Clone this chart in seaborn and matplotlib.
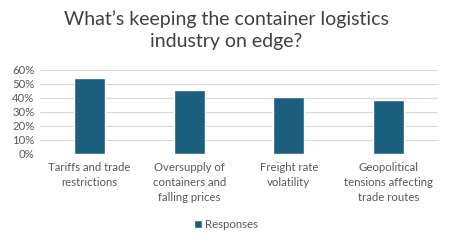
import matplotlib
matplotlib.use("Agg")
import matplotlib.pyplot as plt
import seaborn as sns
import pandas as pd
from matplotlib.ticker import PercentFormatter, MultipleLocator
from matplotlib.patches import Patch

categories = ["Tariffs and trade\nrestrictions",
              "Oversupply of\ncontainers and\nfalling prices",
              "Freight rate\nvolatility",
              "Geopolitical\ntensions affecting\ntrade routes"]
responses = [0.54, 0.46, 0.405, 0.385]
series_name = "Responses"
title = "What\u2019s keeping the container logistics\nindustry on edge?"

sns.set_theme(style="white")
plt.rcParams['font.family'] = ['Lato', 'DejaVu Sans']

df = pd.DataFrame({"cat": categories, "val": responses})
bar_color = "#1B5E7D"
text_gray = "#595959"

fig = plt.figure(figsize=(4.52, 2.45), dpi=100)
ax = fig.add_axes([40/452, 91/245, 398/452, 84/245])
sns.barplot(data=df, x="cat", y="val", color=bar_color, width=0.31, ax=ax, saturation=1)

ax.set_ylim(0, 0.6)
ax.yaxis.set_major_locator(MultipleLocator(0.1))
ax.yaxis.set_major_formatter(PercentFormatter(1.0, decimals=0))
ax.grid(axis="y", color="#D9D9D9", linewidth=0.8)
ax.set_axisbelow(True)
for s in ax.spines.values():
    s.set_visible(False)
ax.set_xlabel("")
ax.set_ylabel("")
ax.tick_params(axis="both", length=0, labelsize=8.2, colors=text_gray)
ax.tick_params(axis="x", pad=6)
ax.tick_params(axis="y", pad=4)
for lbl in ax.get_xticklabels():
    lbl.set_linespacing(1.45)
ax.set_xlim(-0.5, 3.5)

fig.text(0.5, 1 - 30/245, title, ha="center", va="center", fontsize=14,
         color="#404040", linespacing=1.35)

handles = [Patch(facecolor=bar_color, label=series_name)]
fig.legend(handles=handles, loc="center", bbox_to_anchor=(0.5, 1 - 224/245),
           frameon=False, fontsize=8.2, handlelength=0.7, handleheight=0.7,
           handletextpad=0.3, labelcolor=text_gray)

fig.savefig("out.png", dpi=100)
